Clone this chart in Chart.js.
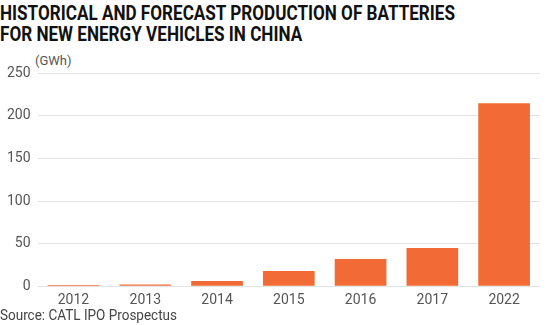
<!DOCTYPE html>
<html>
<head>
<meta charset="utf-8">
<script src="https://cdn.jsdelivr.net/npm/chart.js@4"></script>
<style>
    body { margin: 0; background: #fff; }
    #wrap { position: relative; width: 560px; height: 325px; overflow: hidden; }
    .narrow { position: absolute; left: 0; white-space: nowrap; transform-origin: 0 0; }
    #title {
        top: 3px;
        font-family: Roboto, sans-serif;
        font-weight: bold; font-size: 21px; line-height: 21px; color: #111;
    }
    #unit {
        position: absolute; left: 35px; top: 53px;
        font-family: Roboto, sans-serif; font-size: 13px; color: #555;
    }
    #source {
        top: 306px;
        font-family: Roboto, sans-serif;
        font-size: 15px; color: #444;
    }
    #box { position: absolute; left: 0; top: 58px; width: 540px; height: 249px; }
</style>
</head>
<body>
<div id="wrap">
    <div id="title" class="narrow"><span id="t1">HISTORICAL AND FORECAST PRODUCTION OF BATTERIES</span><br>FOR NEW ENERGY VEHICLES IN CHINA</div>
    <div id="unit">(GWh)</div>
    <div id="box"><canvas id="batteryChart"></canvas></div>
    <div id="source" class="narrow"><span id="s1">Source: CATL IPO Prospectus</span></div>
</div>
<script>
const years = ["2012", "2013", "2014", "2015", "2016", "2017", "2022"];
const production = [1.5, 2, 6, 18, 32, 45, 215];
const yTicks = [0, 50, 100, 150, 200, 250];

document.addEventListener("DOMContentLoaded", () => {
    // squeeze the title and source text to the condensed widths of the original
    const fit = (box, span, width) => {
        const w = document.getElementById(span).getBoundingClientRect().width;
        document.getElementById(box).style.transform = "scaleX(" + (width / w) + ")";
    };
    fit("title", "t1", 455);
    fit("source", "s1", 177);

    const ctx = document.getElementById("batteryChart").getContext("2d");

    new Chart(ctx, {
        type: "bar",
        data: {
            labels: years,
            datasets: [{
                label: "Production",
                data: production,
                backgroundColor: "#f26b37",
                barPercentage: 0.72,
                categoryPercentage: 1
            }]
        },
        options: {
            responsive: true,
            maintainAspectRatio: false,
            animation: false,
            layout: { padding: { top: 10, right: 0, left: 0, bottom: 0 } },
            plugins: { legend: { display: false }, tooltip: { enabled: false } },
            scales: {
                x: {
                    grid: { display: false },
                    border: { display: false },
                    ticks: { color: "#555", font: { family: "Roboto", size: 14 }, padding: -2 }
                },
                y: {
                    min: 0,
                    max: 250,
                    afterBuildTicks: axis => { axis.ticks = yTicks.map(v => ({ value: v })); },
                    grid: { color: "#e3e3e3", drawTicks: false },
                    border: { display: false },
                    ticks: { color: "#555", font: { family: "Roboto", size: 14 }, padding: 7 }
                }
            }
        }
    });
});
</script>
</body>
</html>
